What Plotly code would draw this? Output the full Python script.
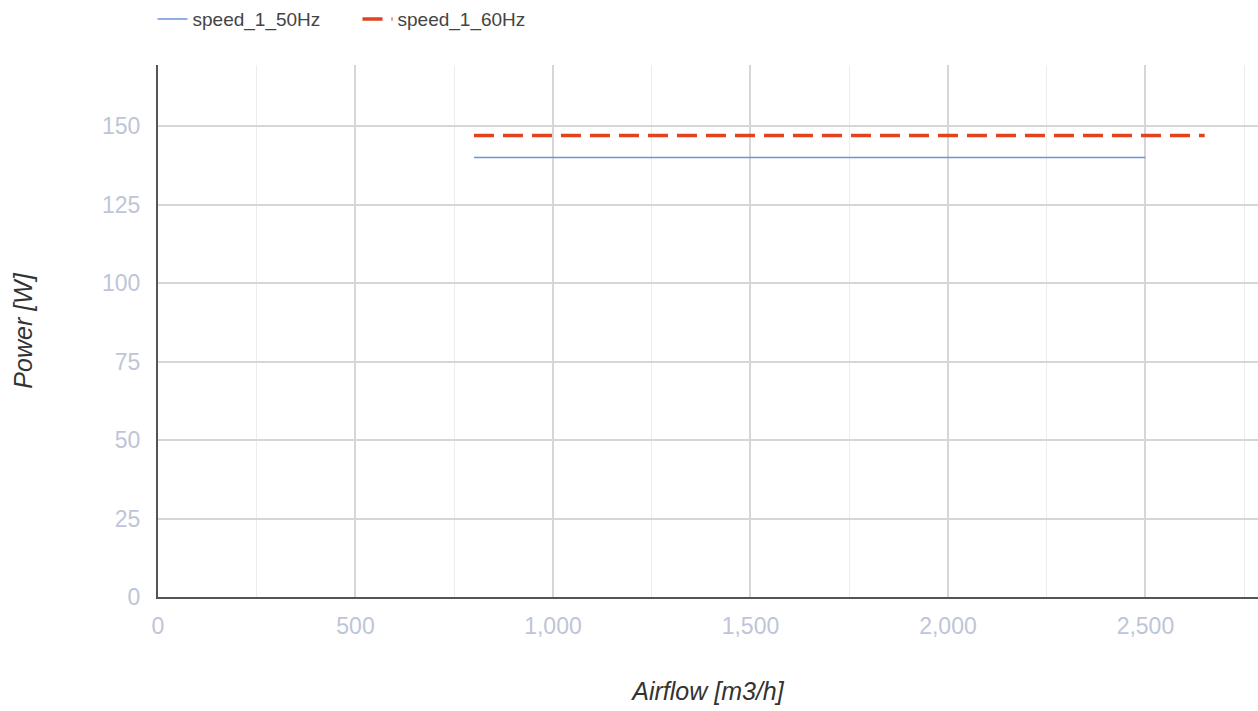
import plotly.graph_objects as go

# Airflow [m3/h] vs power [W]
airflow_50 = [800, 2500]
power_50 = [140, 140]
airflow_60 = [800, 2650]
power_60 = [147, 147]

x_ticks = [0, 500, 1000, 1500, 2000, 2500]
x_tick_labels = ["0", "500", "1,000", "1,500", "2,000", "2,500"]
y_ticks = [0, 25, 50, 75, 100, 125, 150]

fig = go.Figure()

fig.add_trace(go.Scatter(
    x=airflow_50, y=power_50, mode="lines", name="speed_1_50Hz",
    line=dict(color="#6f93dd", width=1.5)
))
fig.add_trace(go.Scatter(
    x=airflow_60, y=power_60, mode="lines", name="speed_1_60Hz",
    line=dict(color="#e2431e", width=3.5, dash="20px,9px")
))

tick_font = dict(family="Liberation Sans, Arial, sans-serif", size=23, color="#bec5d8")
title_font = dict(family="Liberation Sans, Arial, sans-serif", size=25, color="#333333")

fig.update_layout(
    width=1258, height=711,
    margin=dict(l=158, r=0, t=65, b=114),
    paper_bgcolor="white",
    plot_bgcolor="white",
    showlegend=True,
    legend=dict(
        orientation="h", x=-0.005, xanchor="left",
        yref="container", y=0.973, yanchor="middle",
        font=dict(family="Liberation Sans, Arial, sans-serif", size=19, color="#444444"),
        itemwidth=30,
        entrywidth=160, entrywidthmode="pixels",
    ),
    xaxis=dict(
        range=[0, 2785],
        tickvals=x_ticks, ticktext=x_tick_labels,
        tickfont=tick_font,
        showgrid=True, gridcolor="#d6d6d6", gridwidth=1.5,
        minor=dict(dtick=250, showgrid=True, gridcolor="#ececec", gridwidth=1),
        showline=True, linecolor="#555555", linewidth=2,
        zeroline=False, ticks="",
        ticklabelstandoff=7,
        automargin=False,
        title=dict(text="<i>Airflow [m3/h]</i>", font=title_font, standoff=45),
        fixedrange=True,
    ),
    yaxis=dict(
        range=[0, 169.5],
        tickvals=y_ticks,
        tickfont=tick_font,
        showgrid=True, gridcolor="#d6d6d6", gridwidth=1.5,
        showline=True, linecolor="#555555", linewidth=2,
        zeroline=False, ticks="",
        ticklabelstandoff=11,
        automargin=False,
        title=dict(text="<i>Power [W]</i>", font=title_font, standoff=62),
        fixedrange=True,
    ),
)

# drop the default body margin so the 1258x711 figure fills the window exactly
fig.write_html(
    "out.html",
    config={"displayModeBar": False},
    post_script="document.body.style.margin='0';",
)
